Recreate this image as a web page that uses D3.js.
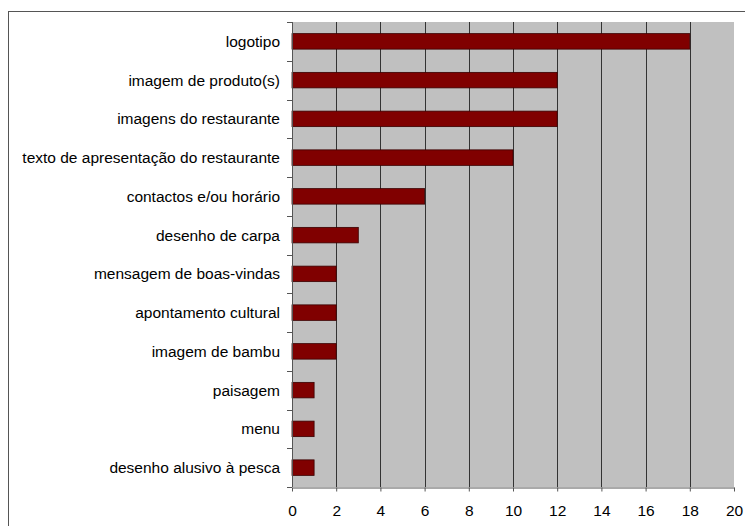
<!DOCTYPE html>
<html><head><meta charset="utf-8">
<script src="https://cdn.jsdelivr.net/npm/d3@7"></script>
<style>body{margin:0;background:#fff}svg{display:block}</style>
</head><body>
<svg id="c" width="745" height="526"></svg>
<script>
const categories = ["logotipo","imagem de produto(s)","imagens do restaurante","texto de apresentação do restaurante","contactos e/ou horário","desenho de carpa","mensagem de boas-vindas","apontamento cultural","imagem de bambu","paisagem","menu","desenho alusivo à pesca"];
const values = [18,12,12,10,6,3,2,2,2,1,1,1];
const xTicks = [0,2,4,6,8,10,12,14,16,18,20];

const svg = d3.select("#c");
const L = 292, R = 734, T = 22, B = 487;
const FONT = "'Liberation Sans',Arial,sans-serif";
svg.append("rect").attr("x",8.5).attr("y",11.5).attr("width",760).attr("height",540)
  .attr("fill","#fff").attr("stroke","#555").attr("stroke-width",1);

const x = d3.scaleLinear().domain([0,20]).range([L,R]);
const y = d3.scaleBand().domain(categories).range([T,B]).paddingInner(0.6).paddingOuter(0.3);

svg.append("rect").attr("x",L).attr("y",T).attr("width",R-L).attr("height",B-T).attr("fill","#c0c0c0");

svg.append("g").selectAll("line").data(xTicks.slice(1,-1)).join("line")
  .attr("x1",d=>Math.round(x(d))+0.5).attr("x2",d=>Math.round(x(d))+0.5)
  .attr("y1",T).attr("y2",B).attr("stroke","#333").attr("stroke-width",1);

svg.append("g").selectAll("rect").data(values).join("rect")
  .attr("x",x(0)).attr("y",(d,i)=>y(categories[i]))
  .attr("width",d=>x(d)-x(0)).attr("height",y.bandwidth())
  .attr("fill","#800000").attr("stroke","#3a0000").attr("stroke-width",0.8);

const xa = svg.append("g").attr("transform",`translate(0,${B+0.5})`)
  .call(d3.axisBottom(x).tickValues(xTicks).tickSize(4).tickPadding(13).tickSizeOuter(0));
xa.select(".domain").attr("stroke","#555");
xa.selectAll(".tick line").attr("stroke","#555");
xa.selectAll("text").attr("font-family",FONT).attr("font-size",15.5).attr("fill","#000");

const ya = svg.append("g");
ya.append("line").attr("x1",L+0.5).attr("x2",L+0.5).attr("y1",T).attr("y2",B).attr("stroke","#555");
const step = (B-T)/categories.length;
ya.selectAll("line.t").data(d3.range(categories.length+1)).join("line").attr("class","t")
  .attr("x1",L-5).attr("x2",L).attr("y1",i=>Math.round(T+i*step)+0.5).attr("y2",i=>Math.round(T+i*step)+0.5)
  .attr("stroke","#555");
ya.selectAll("text").data(categories).join("text")
  .attr("x",L-12).attr("y",d=>y(d)+y.bandwidth()/2).attr("dy","0.35em")
  .attr("text-anchor","end").attr("font-family",FONT)
  .attr("font-size",15.5).attr("fill","#000").text(d=>d);
</script>
</body></html>
